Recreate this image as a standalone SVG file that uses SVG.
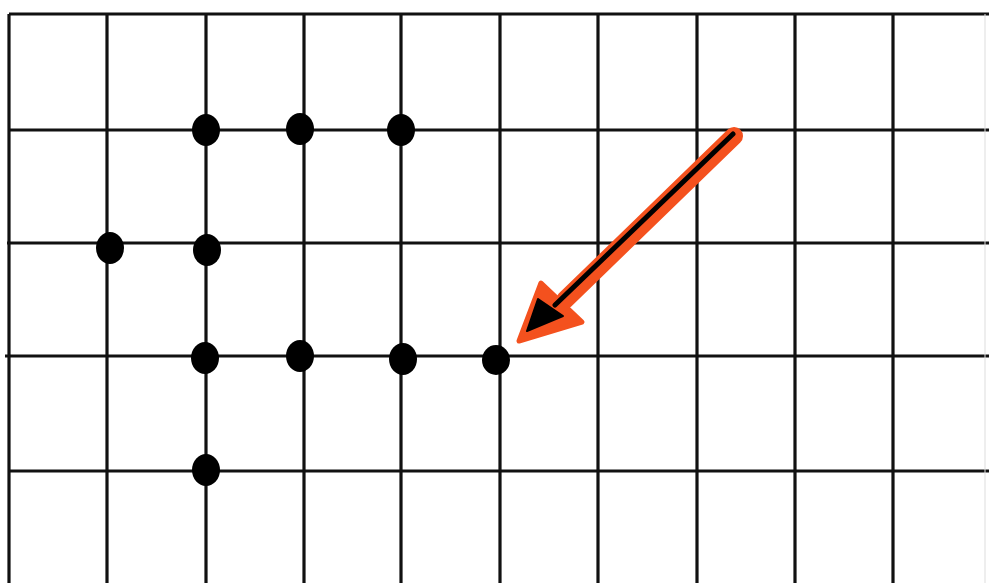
<svg xmlns="http://www.w3.org/2000/svg" width="989" height="583" viewBox="0 0 989 583">
<style>
.g{stroke:#111;stroke-width:3.2;fill:none}
.dot{fill:#000}
</style>
<rect width="989" height="583" fill="#fff"/>
<g id="grid" class="g">
<line x1="9" y1="14" x2="989" y2="14"/>
<line x1="9" y1="130" x2="989" y2="130"/>
<line x1="7" y1="243" x2="989" y2="243"/>
<line x1="5" y1="356" x2="989" y2="356"/>
<line x1="9" y1="471" x2="989" y2="471"/>
<line x1="9" y1="14" x2="9" y2="583"/>
<line x1="107" y1="14" x2="107" y2="583"/>
<line x1="206" y1="14" x2="206" y2="583"/>
<line x1="304" y1="14" x2="304" y2="583"/>
<line x1="401" y1="14" x2="401" y2="583"/>
<line x1="500" y1="14" x2="500" y2="583"/>
<line x1="598" y1="14" x2="598" y2="583"/>
<line x1="697" y1="14" x2="697" y2="583"/>
<line x1="795" y1="14" x2="795" y2="583"/>
<line x1="893" y1="14" x2="893" y2="583"/>
<line x1="985" y1="14" x2="985" y2="583" stroke="#ddd" stroke-width="1"/>
</g>
<g id="dot1"><ellipse class="dot" cx="206" cy="130" rx="14" ry="16"/></g>
<g id="dot2"><ellipse class="dot" cx="300" cy="129" rx="14" ry="16"/></g>
<g id="dot3"><ellipse class="dot" cx="401" cy="130" rx="14" ry="16"/></g>
<g id="dot4"><ellipse class="dot" cx="110" cy="248" rx="14" ry="16"/></g>
<g id="dot5"><ellipse class="dot" cx="207" cy="250" rx="14" ry="16"/></g>
<g id="dot6"><ellipse class="dot" cx="205" cy="358" rx="14" ry="16"/></g>
<g id="dot7"><ellipse class="dot" cx="300" cy="356" rx="14" ry="16"/></g>
<g id="dot8"><ellipse class="dot" cx="403" cy="359" rx="14" ry="16"/></g>
<g id="dot9"><ellipse class="dot" cx="496" cy="360" rx="14" ry="15"/></g>
<g id="dot10"><ellipse class="dot" cx="206" cy="470" rx="14" ry="16"/></g>
<g id="connectors">
<line x1="734" y1="136" x2="565" y2="300" stroke="#f4511e" stroke-width="18" stroke-linecap="round"/>
<polygon points="519,341 541,283 582,322" fill="#f4511e" stroke="#f4511e" stroke-width="5" stroke-linejoin="round"/>
<line x1="733" y1="134" x2="555" y2="305" stroke="#000" stroke-width="5" stroke-linecap="round"/>
<polygon points="527,331 538,299 563,316" fill="#000" stroke="#000" stroke-width="2" stroke-linejoin="round"/>
</g>
</svg>
